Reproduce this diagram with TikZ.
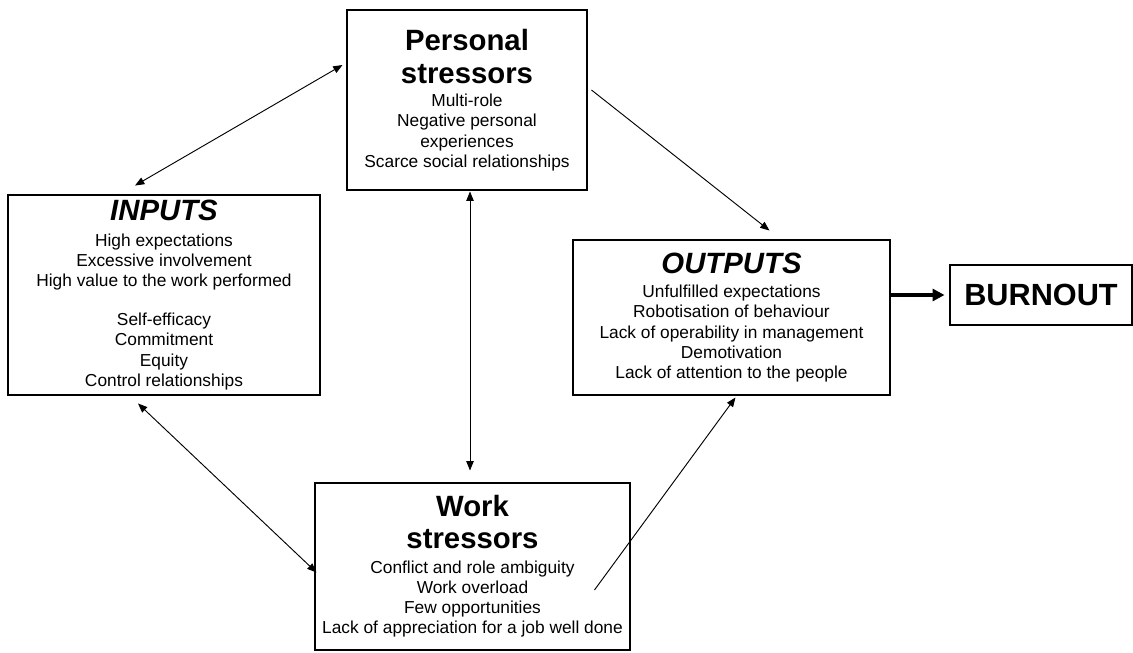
\documentclass[tikz,border=0pt]{standalone}
\usepackage{fontspec}
\setmainfont{Liberation Sans}
\usetikzlibrary{arrows.meta,positioning,calc}

\newcommand\boxtitle{\fontsize{22}{26}\selectfont\bfseries}

\begin{document}
\begin{tikzpicture}[
  x=0.75pt, y=-0.75pt,
  box/.style={rectangle, draw, line width=2.2pt, align=center, inner sep=2pt,
              font=\fontsize{13}{15.2}\selectfont},
  link/.style={line width=0.7pt, -{Triangle[length=7pt, width=5.5pt]}},
  both/.style={link, {Triangle[length=7pt, width=5.5pt]}-{Triangle[length=7pt, width=5.5pt]}},
]
  \useasboundingbox (0,0) rectangle (1133,653);

  \node[box, minimum width=180pt, minimum height=135pt] (personal) at (467,100)
    {{\boxtitle Personal}\\[10pt]{\boxtitle stressors}\\[2pt]
     Multi-role\\Negative personal\\experiences\\Scarce social relationships};

  \node[box, minimum width=234pt, minimum height=150pt] (inputs) at (164,295)
    {{\boxtitle\itshape INPUTS}\\[4pt]
     High expectations\\Excessive involvement\\High value to the work performed\\[14pt]
     Self-efficacy\\Commitment\\Equity\\Control relationships};

  \node[box, minimum width=237.75pt, minimum height=116.25pt] (outputs) at (731.5,317.5)
    {{\boxtitle\itshape OUTPUTS}\\[3pt]
     Unfulfilled expectations\\Robotisation of behaviour\\Lack of operability in management\\
     Demotivation\\Lack of attention to the people};

  \node[box, minimum width=136.5pt, minimum height=45pt,
        font=\fontsize{23}{26}\selectfont\bfseries] (burnout) at (1041,295) {BURNOUT};

  \node[box, minimum width=236.25pt, minimum height=125.25pt] (work) at (472.5,566.5)
    {{\boxtitle Work}\\[9pt]{\boxtitle stressors}\\[3pt]
     Conflict and role ambiguity\\Work overload\\Few opportunities\\
     Lack of appreciation for a job well done};

  % connectors
  \draw[both] ([shift={(-3,-35)}]personal.west) -- ([shift={(-29,-8)}]inputs.north);
  \draw[link] ([shift={(3,-10)}]personal.east) -- ([shift={(38,-8)}]outputs.north);
  \draw[both] ([shift={(3,0)}]personal.south) -- ([shift={(-2.5,-11)}]work.north);
  \draw[both] ([shift={(-26,7)}]inputs.south) -- ([shift={(3,6)}]work.west);
  \draw[link] ([shift={(-37,23.5)}]work.east) -- ([shift={(4,1)}]outputs.south);
  \draw[line width=2.8pt, -{Triangle[length=9pt, width=9pt]}, shorten >=3pt]
    (outputs.east |- burnout.west) -- (burnout.west);
\end{tikzpicture}
\end{document}
